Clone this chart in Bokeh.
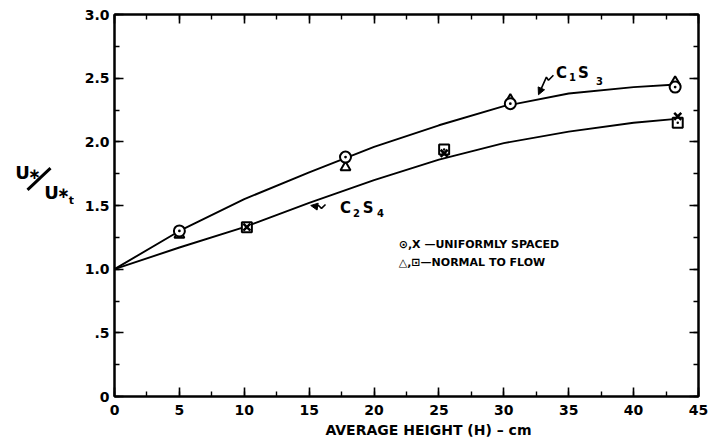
from bokeh.plotting import figure
from bokeh.layouts import row
from bokeh.models import Range1d, LinearAxis, SingleIntervalTicker, Label, Arrow, NormalHead
from bokeh.embed import file_html
from bokeh.resources import INLINE

# ---------------- data ----------------
x_ticks = [0, 5, 10, 15, 20, 25, 30, 35, 40, 45]
x_tick_labels = ["0", "5", "10", "15", "20", "25", "30", "35", "40", "45"]
y_ticks = [0, 0.5, 1.0, 1.5, 2.0, 2.5, 3.0]
y_tick_labels = ["0", ".5", "1.0", "1.5", "2.0", "2.5", "3.0"]

# fitted curves
c1s3_x = [0, 5, 10, 15, 20, 25, 30, 35, 40, 43.3]
c1s3_y = [1.00, 1.30, 1.55, 1.76, 1.96, 2.13, 2.28, 2.38, 2.43, 2.45]
c2s4_x = [0, 5, 10, 15, 20, 25, 30, 35, 40, 43.3]
c2s4_y = [1.00, 1.17, 1.33, 1.52, 1.70, 1.86, 1.99, 2.08, 2.15, 2.18]

# measured points
circle_x = [5.0, 17.8, 30.5, 43.2]
circle_y = [1.30, 1.88, 2.30, 2.43]
triangle_x = [5.0, 17.8, 30.5, 43.2]
triangle_y = [1.27, 1.80, 2.33, 2.47]
cross_x = [10.2, 25.4, 43.4]
cross_y = [1.33, 1.91, 2.20]
square_x = [10.2, 25.4, 43.4]
square_y = [1.33, 1.94, 2.15]

x_title = "AVERAGE  HEIGHT (H) \u2013 cm"
legend_lines = ["\u2299,X \u2014UNIFORMLY SPACED", "\u25b3,\u22a1\u2014NORMAL TO FLOW"]

FONT = "DejaVu Sans"
H = 440

# ---------------- left strip holding the y-axis title ----------------
yfig = figure(width=74, height=H, x_range=Range1d(0, 74), y_range=Range1d(H, 0),
              output_backend="svg", toolbar_location=None,
              x_axis_type=None, y_axis_type=None,
              min_border_left=0, min_border_right=0, min_border_top=0, min_border_bottom=0)
yfig.xgrid.visible = False
yfig.ygrid.visible = False
yfig.outline_line_color = None

def ylab(x, y, text, size):
    yfig.add_layout(Label(x=x, y=y, text=text, text_font=FONT, text_font_size=size,
                          text_font_style="bold", text_align="center", text_baseline="middle",
                          text_color="black"))

ylab(22, 182, "U", "18px")
ylab(34, 184, "\u2217", "15px")
yfig.line([27, 50], [202, 177], line_color="black", line_width=3)
ylab(51, 205, "U", "18px")
ylab(63, 206, "\u2217", "15px")
ylab(71, 214, "t", "11px")

# ---------------- main chart ----------------
p = figure(width=638, height=H, x_range=Range1d(0, 45), y_range=Range1d(0, 3),
           output_backend="svg", toolbar_location=None,
           min_border_left=40, min_border_right=14, min_border_top=14, min_border_bottom=42,
           background_fill_color="white", border_fill_color="white")
p.xgrid.visible = False
p.ygrid.visible = False
p.outline_line_color = "black"
p.outline_line_width = 2

def style_axis(ax, labels=True):
    ax.axis_line_color = "black"
    ax.axis_line_width = 2
    ax.major_tick_in = 9
    ax.major_tick_out = 0
    ax.minor_tick_in = 5
    ax.minor_tick_out = 0
    ax.major_tick_line_width = 1.6
    ax.minor_tick_line_width = 1.4
    ax.major_tick_line_color = "black"
    ax.minor_tick_line_color = "black"
    if labels:
        ax.major_label_text_font = FONT
        ax.major_label_text_font_style = "bold"
        ax.major_label_text_font_size = "14px"
        ax.major_label_text_color = "black"
    else:
        ax.major_label_text_font_size = "1px"
        ax.major_label_standoff = 0

xb = p.xaxis[0]
xb.ticker = SingleIntervalTicker(interval=5, num_minor_ticks=2)
xb.major_label_overrides = {t: l for t, l in zip(x_ticks, x_tick_labels)}
style_axis(xb)
xb.major_label_standoff = 8
xb.axis_label = "\u00a0" * 10 + x_title
xb.axis_label_text_font = FONT
xb.axis_label_text_font_style = "bold"
xb.axis_label_text_font_size = "14px"
xb.axis_label_text_color = "black"
xb.axis_label_standoff = 4

yl = p.yaxis[0]
yl.ticker = SingleIntervalTicker(interval=0.5, num_minor_ticks=2)
yl.major_label_overrides = {t: l for t, l in zip(y_ticks, y_tick_labels)}
style_axis(yl)
yl.major_label_standoff = 5

xt = LinearAxis(ticker=SingleIntervalTicker(interval=5, num_minor_ticks=2))
style_axis(xt, labels=False)
xt.major_label_overrides = {t: "" for t in x_ticks}
p.add_layout(xt, "above")
yr = LinearAxis(ticker=SingleIntervalTicker(interval=0.5, num_minor_ticks=2))
style_axis(yr, labels=False)
yr.major_label_overrides = {t: "" for t in y_ticks}
p.add_layout(yr, "right")

# curves
p.line(c1s3_x, c1s3_y, line_color="black", line_width=1.9)
p.line(c2s4_x, c2s4_y, line_color="black", line_width=1.9)

# markers
p.scatter(triangle_x, triangle_y, marker="triangle", size=10, fill_color="white",
          line_color="black", line_width=2)
p.scatter(circle_x, circle_y, marker="circle_dot", size=11, fill_color="white",
          line_color="black", line_width=2)
p.scatter(square_x, square_y, marker="square_dot", size=10, fill_color="white",
          line_color="black", line_width=2)
p.scatter(cross_x, cross_y, marker="x", size=10, line_color="black", line_width=2.5)

def lab(x, y, text, size, align="center"):
    p.add_layout(Label(x=x, y=y, text=text, text_font=FONT, text_font_size=size,
                       text_font_style="bold", text_align=align, text_baseline="middle",
                       text_color="black"))

# curve labels
lab(34.44, 2.54, "C", "15px")
lab(35.28, 2.51, "1", "10px")
lab(36.13, 2.54, "S", "15px")
lab(37.37, 2.48, "3", "10px")
lab(17.8, 1.484, "C", "15px")
lab(18.65, 1.445, "2", "10px")
lab(19.55, 1.484, "S", "15px")
lab(20.5, 1.44, "4", "10px")

# squiggle arrows
p.line([33.82, 33.44, 33.28, 32.90], [2.523, 2.484, 2.508, 2.422], line_color="black", line_width=1.6)
p.add_layout(Arrow(x_start=32.90, y_start=2.422, x_end=32.67, y_end=2.37,
                   line_color="black", line_width=1.6,
                   end=NormalHead(size=7, fill_color="black", line_color="black")))
p.line([16.26, 15.95, 15.72, 15.49], [1.508, 1.477, 1.50, 1.494], line_color="black", line_width=1.6)
p.add_layout(Arrow(x_start=15.49, y_start=1.494, x_end=15.12, y_end=1.50,
                   line_color="black", line_width=1.6,
                   end=NormalHead(size=7, fill_color="black", line_color="black")))

# legend text
lab(21.9, 1.19, legend_lines[0], "11px", align="left")
lab(21.9, 1.05, legend_lines[1], "11px", align="left")

open("out.html", "w").write(file_html(row(yfig, p, spacing=0), INLINE))
